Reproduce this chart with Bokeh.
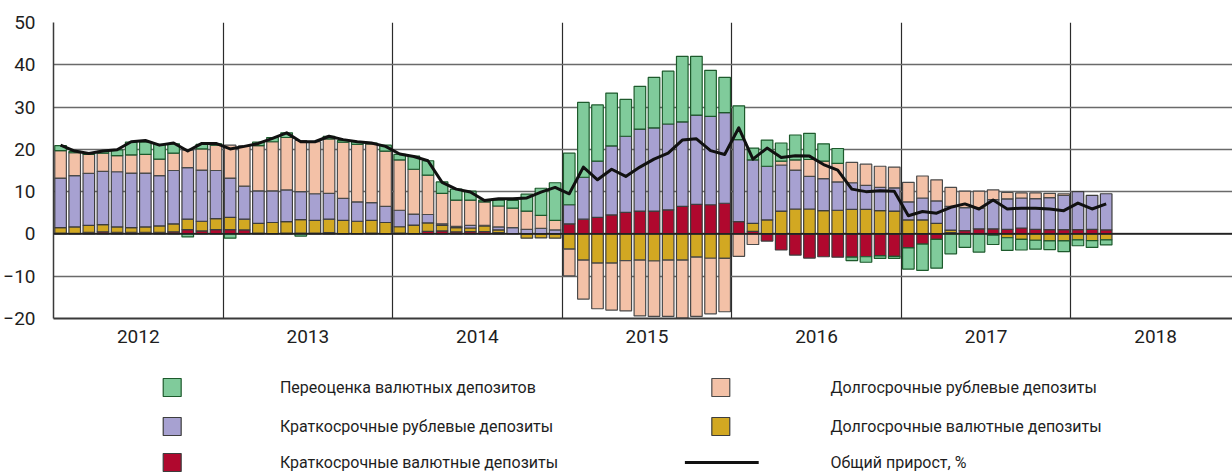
from bokeh.plotting import figure
from bokeh.models import Range1d, FixedTicker, Span
from bokeh.layouts import column
from bokeh.embed import file_html
from bokeh.resources import INLINE
from bokeh.core.properties import value

FONT = "Roboto"

years = ["2012", "2013", "2014", "2015", "2016", "2017", "2018"]
y_ticks = [-20, -10, 0, 10, 20, 30, 40, 50]

# Monthly values, Jan 2012 .. Mar 2018 (percentage-point contributions)
short_fx = [0.2, 0.15, 0.4, 0.5, 0.4, 0.4, 0.4, 0.4, 0.5, 1.0, 0.7, 1.0,
            1.0, 0.95, 0.2, 0.1, 0.2, 0.2, 0.2, 0.3, 0.1, 0.1, 0.2, 0.1,
            0.2, 0.1, 0.6, 0.7, 0.5, 0.55, 0.55, 0.3, 0.0, 0.0, 0.0, 0.0,
            2.4, 3.5, 3.9, 4.5, 5.1, 5.4, 5.4, 5.7, 6.5, 7.0, 6.9, 7.25,
            2.9, 0.6, -1.7, -3.8, -5.0, -5.7, -5.4, -5.5, -5.5, -5.4, -5.2, -5.3,
            -3.3, -2.4, -1.3, 0.3, 0.8, 1.2, 1.2, 1.1, 1.4, 1.1, 1.0, 1.0,
            1.0, 1.1, 0.95]
long_fx = [1.3, 1.5, 1.6, 1.7, 1.25, 1.1, 1.25, 1.5, 1.9, 2.5, 2.3, 2.6,
           2.9, 2.55, 2.3, 2.6, 2.7, 3.2, 3.0, 3.2, 3.1, 2.9, 3.0, 2.6,
           1.5, 2.0, 2.0, 1.3, 1.0, 0.85, 1.35, 0.65, 0.0, -1.0, -0.95, -1.0,
           -3.6, -6.2, -6.9, -6.9, -6.3, -6.2, -6.4, -6.2, -6.2, -5.5, -5.75, -5.8,
           0.0, 1.9, 3.3, 5.4, 5.9, 5.9, 5.5, 5.6, 5.8, 5.8, 5.5, 5.4,
           3.3, 3.3, 2.5, 0.6, 0.0, 0.0, -0.3, -0.9, -1.3, -1.5, -1.65, -1.65,
           -1.4, -1.6, -1.4]
short_rub = [11.7, 12.15, 12.3, 12.6, 13.05, 12.9, 12.75, 11.9, 12.6, 12.2, 12.1, 11.4,
             9.3, 7.8, 7.7, 7.5, 7.5, 6.6, 6.3, 6.1, 5.2, 4.6, 4.2, 3.8,
             3.9, 2.6, 2.0, 0.4, 0.3, 0.6, 0.15, 0.7, 1.5, 1.1, 1.3, 0.95,
             4.5, 9.9, 13.3, 16.3, 18.0, 19.4, 19.7, 20.3, 20.0, 21.1, 20.9, 21.45,
             19.4, 15.0, 12.7, 10.9, 9.2, 7.7, 7.6, 6.7, 6.3, 5.7, 5.5, 5.5,
             4.3, 5.2, 5.3, 5.6, 5.4, 4.9, 6.9, 7.2, 7.1, 7.25, 7.6, 8.1,
             9.0, 8.0, 8.55]
long_rub = [6.5, 5.4, 4.5, 4.3, 3.8, 4.3, 4.4, 3.9, 4.1, 4.1, 5.0, 6.0,
            7.8, 9.5, 10.7, 11.6, 12.4, 12.1, 12.3, 12.9, 13.3, 13.6, 13.9, 13.1,
            11.9, 10.6, 9.3, 7.2, 6.2, 6.0, 5.55, 4.95, 4.6, 4.3, 3.1, 2.25,
            -6.3, -9.2, -10.8, -11.1, -11.9, -13.2, -13.1, -13.3, -13.7, -14.0, -13.15, -12.6,
            -5.3, -2.5, 0.0, 0.9, 2.4, 4.0, 4.1, 4.4, 4.8, 5.0, 5.0, 4.9,
            4.6, 5.2, 5.0, 4.5, 3.9, 4.0, 2.3, 1.5, 1.2, 1.35, 1.0, 0.4,
            0.0, 0.0, 0.0]
revaluation = [1.2, 0.3, 0.1, 0.4, 1.4, 3.0, 2.9, 3.5, 2.2, -0.7, 1.1, 0.3,
               -1.0, 0.0, 0.8, 1.0, 1.1, -0.5, 0.0, 0.6, 0.4, 0.6, 0.2, 1.4,
               1.3, 3.1, 3.4, 2.7, 2.6, 2.1, 0.4, 1.4, 1.8, 4.0, 6.4, 8.9,
               12.2, 17.7, 13.3, 12.5, 8.7, 10.1, 11.9, 12.5, 15.5, 13.9, 10.9, 8.3,
               8.0, 2.8, 6.2, 4.3, 5.9, 6.2, 4.1, 3.5, -0.8, -1.3, -0.6, -0.5,
               -5.0, -6.2, -6.8, -4.7, -3.2, -4.3, -2.2, -3.0, -2.5, -2.1, -2.05, -2.55,
               -1.4, -1.6, -1.2]
total_growth = [21.0, 19.6, 19.0, 19.6, 19.9, 21.8, 22.1, 21.0, 21.5, 19.6, 21.4, 21.4,
                20.1, 20.7, 21.4, 22.6, 23.9, 21.8, 21.8, 23.1, 22.3, 21.8, 21.5, 20.7,
                18.9, 18.3, 17.3, 12.2, 10.6, 9.9, 7.9, 8.3, 8.3, 8.5, 9.9, 11.0,
                9.5, 15.8, 12.8, 15.3, 13.6, 15.8, 17.7, 19.1, 22.2, 22.5, 19.7, 18.8,
                25.1, 17.7, 20.3, 18.1, 18.5, 18.4, 16.4, 15.1, 10.6, 10.0, 10.2, 10.1,
                4.3, 5.3, 4.9, 6.3, 7.1, 5.9, 8.0, 5.9, 6.1, 6.1, 5.9, 5.5,
                7.3, 5.9, 7.1]

labels = {
    "revaluation": "Переоценка валютных депозитов",
    "short_rub": "Краткосрочные рублевые депозиты",
    "short_fx": "Краткосрочные валютные депозиты",
    "long_rub": "Долгосрочные рублевые депозиты",
    "long_fx": "Долгосрочные валютные депозиты",
    "total": "Общий прирост, %",
}
fills = {"short_fx": "#b0082e", "long_fx": "#d2a822", "short_rub": "#a7a1d1",
         "long_rub": "#f3c1a7", "revaluation": "#80cb9b"}
edges = {"short_fx": "#3d3d3d", "long_fx": "#3d3d3d", "short_rub": "#3d3d3d",
         "long_rub": "#4a4a4a", "revaluation": "#1d5a2c"}

n = len(total_growth)
centers = [i + 0.5 for i in range(n)]

p = figure(width=1232, height=356, x_range=Range1d(0, 83.44), y_range=Range1d(-20, 50),
           output_backend="svg", toolbar_location=None,
           min_border_left=50, min_border_right=0, min_border_top=22, min_border_bottom=38)
p.outline_line_color = None
p.xgrid.ticker = FixedTicker(ticks=[12, 24, 36, 48, 60, 72])
p.xgrid.grid_line_color = "#2b2b2b"
p.xgrid.grid_line_width = 1.2
p.ygrid.ticker = FixedTicker(ticks=y_ticks)
p.ygrid.grid_line_color = "#6a6a6a"
p.ygrid.grid_line_width = 1.6

p.xaxis.ticker = FixedTicker(ticks=[6 + 12 * i for i in range(len(years))])
p.xaxis.major_label_overrides = {6 + 12 * i: y for i, y in enumerate(years)}
p.yaxis.ticker = FixedTicker(ticks=y_ticks)
for ax in (p.xaxis, p.yaxis):
    ax.major_tick_line_color = None
    ax.minor_tick_line_color = None
    ax.major_tick_out = 0
    ax.major_tick_in = 0
    ax.minor_tick_out = 0
    ax.minor_tick_in = 0
    ax.major_label_text_font = FONT
    ax.major_label_text_font_size = "19px"
    ax.major_label_text_color = "#1e1e1e"
p.xaxis.axis_line_color = "#3a3a3a"
p.xaxis.axis_line_width = 2
p.yaxis.axis_line_color = "#3a3a3a"
p.yaxis.axis_line_width = 1.5
p.xaxis.major_label_standoff = 11
p.yaxis.major_label_standoff = 18

series = [("short_fx", short_fx), ("long_fx", long_fx), ("short_rub", short_rub),
          ("long_rub", long_rub), ("revaluation", revaluation)]
pos = [0.0] * n
neg = [0.0] * n
for key, vals in series:
    xs, bots, tops = [], [], []
    for i, v in enumerate(vals):
        if v == 0:
            continue
        if v > 0:
            b = pos[i]; t = b + v; pos[i] = t
        else:
            b = neg[i]; t = b + v; neg[i] = t
        xs.append(centers[i]); bots.append(b); tops.append(t)
    p.vbar(x=xs, bottom=bots, top=tops, width=0.82, fill_color=fills[key],
           line_color=edges[key], line_width=1.2)

p.add_layout(Span(location=0, dimension="width", line_color="#222222", line_width=1.8))
p.line(centers, total_growth, line_color="#111111", line_width=3, line_join="round")

# Legend panel (page-pixel coordinates, y downwards)
LH = 118
lg = figure(width=1232, height=LH, x_range=Range1d(50, 1232), y_range=Range1d(LH, 0),
            x_axis_type=None, y_axis_type=None,
            output_backend="svg", toolbar_location=None,
            min_border=0, min_border_left=50, min_border_right=0, min_border_top=0, min_border_bottom=0)
lg.grid.visible = False
lg.outline_line_color = None

rows_y = [31, 70, 106]
left_keys = ["revaluation", "short_rub", "short_fx"]
right_keys = ["long_rub", "long_fx"]
for k, yy in zip(left_keys, rows_y):
    lg.rect(x=[169], y=[yy], width=18, height=18, fill_color=fills[k], line_color=edges[k], line_width=1.2)
    lg.text(x=[277], y=[yy], text=[labels[k]], text_font=value(FONT), text_font_size="16px",
            text_baseline="middle", text_align="left", text_color="#1e1e1e")
for k, yy in zip(right_keys, rows_y[:2]):
    lg.rect(x=[719], y=[yy], width=18, height=18, fill_color=fills[k], line_color=edges[k], line_width=1.2)
    lg.text(x=[829], y=[yy], text=[labels[k]], text_font=value(FONT), text_font_size="16px",
            text_baseline="middle", text_align="left", text_color="#1e1e1e")
lg.line(x=[683, 757], y=[rows_y[2], rows_y[2]], line_color="#111111", line_width=3)
lg.text(x=[829], y=[rows_y[2]], text=[labels["total"]], text_font=value(FONT), text_font_size="16px",
        text_baseline="middle", text_align="left", text_color="#1e1e1e")

layout = column(p, lg, spacing=0)
open("out.html", "w").write(file_html(layout, INLINE))
